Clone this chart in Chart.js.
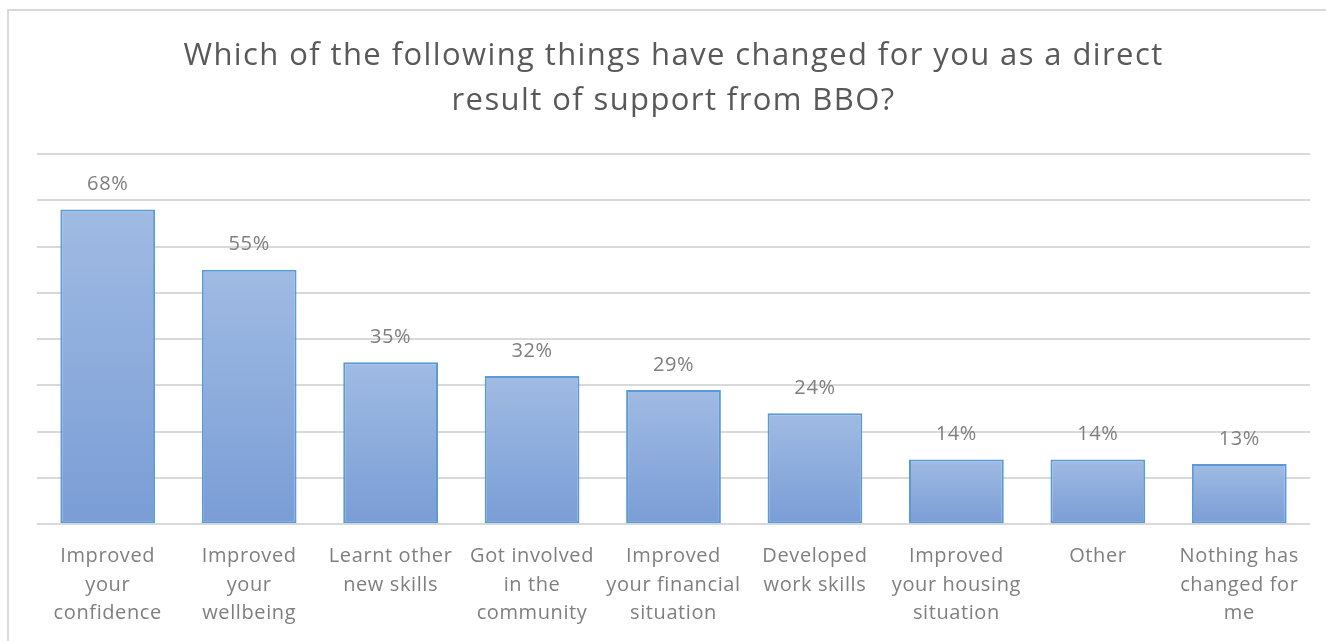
<!DOCTYPE html>
<html lang="en">
<head>
    <meta charset="UTF-8">
    <title>Changes from BBO support</title>
    <script src="https://cdn.jsdelivr.net/npm/chart.js"></script>
    <style>
        body { margin: 0; background: #fff; }
        .frame { position: absolute; left: 7px; top: 9px; width: 1330px; height: 640px; border: 2px solid #d9d9d9; box-sizing: border-box; }
        .wrap { position: absolute; left: 0; top: 0; width: 1326px; height: 641px; }
    </style>
</head>
<body>
    <div class="frame"></div>
    <div class="wrap"><canvas id="bboChart"></canvas></div>

    <script>
        const categories = [
            ['Improved', 'your', 'confidence'],
            ['Improved', 'your', 'wellbeing'],
            ['Learnt other', 'new skills'],
            ['Got involved', 'in the', 'community'],
            ['Improved', 'your financial', 'situation'],
            ['Developed', 'work skills'],
            ['Improved', 'your housing', 'situation'],
            ['Other'],
            ['Nothing has', 'changed for', 'me']
        ];
        const percentages = [68, 55, 35, 32, 29, 24, 14, 14, 13];
        const titleLines = ['Which of the following things have changed for you as a direct', 'result of support from BBO?'];

        const font = '"Open Sans", Lato, sans-serif';

        // per-bar vertical gradient, lighter at the top
        function barFill(context) {
            const chart = context.chart;
            if (!chart.chartArea || !chart.scales.y) return '#8eadde';
            const y = chart.scales.y;
            const top = y.getPixelForValue(context.raw);
            const bottom = y.getPixelForValue(0);
            const g = chart.ctx.createLinearGradient(0, top, 0, bottom);
            g.addColorStop(0, '#a0bbe3');
            g.addColorStop(1, '#7a9dd6');
            return g;
        }

        // the original text is a little letter-spaced
        const spacing = {
            id: 'spacing',
            beforeDraw(chart) { chart.ctx.letterSpacing = '0.6px'; },
            afterDraw(chart) { chart.ctx.letterSpacing = '0px'; }
        };

        // title drawn by hand so it can be spaced wider
        const spacedTitle = {
            id: 'spacedTitle',
            afterDraw(chart) {
                const ctx = chart.ctx;
                const cx = (chart.chartArea.left + chart.chartArea.right) / 2;
                ctx.save();
                ctx.letterSpacing = '1.4px';
                ctx.font = '31px ' + font;
                ctx.fillStyle = '#595959';
                ctx.textAlign = 'center';
                ctx.textBaseline = 'middle';
                titleLines.forEach((line, i) => ctx.fillText(line, cx, 56 + i * 45));
                ctx.restore();
            }
        };

        // simple value labels above bars
        const valueLabels = {
            id: 'valueLabels',
            afterDatasetsDraw(chart) {
                const ctx = chart.ctx;
                const meta = chart.getDatasetMeta(0);
                ctx.save();
                ctx.font = '20px ' + font;
                ctx.fillStyle = '#7f7f7f';
                ctx.textAlign = 'center';
                ctx.textBaseline = 'middle';
                meta.data.forEach((bar, i) => {
                    ctx.fillText(percentages[i] + '%', bar.x, bar.y - 25);
                });
                ctx.restore();
            }
        };

        new Chart(document.getElementById('bboChart'), {
            type: 'bar',
            data: {
                labels: categories,
                datasets: [{
                    data: percentages,
                    backgroundColor: barFill,
                    borderColor: '#5b9bd5',
                    borderWidth: 2,
                    borderSkipped: false,
                    categoryPercentage: 1,
                    barPercentage: 0.67
                }]
            },
            options: {
                responsive: true,
                maintainAspectRatio: false,
                animation: false,
                layout: { padding: { left: 37, right: 16, top: 154, bottom: -5 } },
                plugins: {
                    legend: { display: false },
                    tooltip: { enabled: false },
                    title: { display: false }
                },
                scales: {
                    x: {
                        grid: { display: false, drawTicks: false },
                        border: { display: false },
                        ticks: {
                            color: '#7f7f7f',
                            font: { family: font, size: 20, lineHeight: 1.43 },
                            padding: 18,
                            maxRotation: 0,
                            autoSkip: false
                        }
                    },
                    y: {
                        min: 0,
                        max: 80,
                        ticks: { display: false, stepSize: 10 },
                        grid: { color: '#d9d9d9', lineWidth: 2, drawTicks: false },
                        border: { display: false }
                    }
                }
            },
            plugins: [spacing, valueLabels, spacedTitle]
        });
    </script>
</body>
</html>
